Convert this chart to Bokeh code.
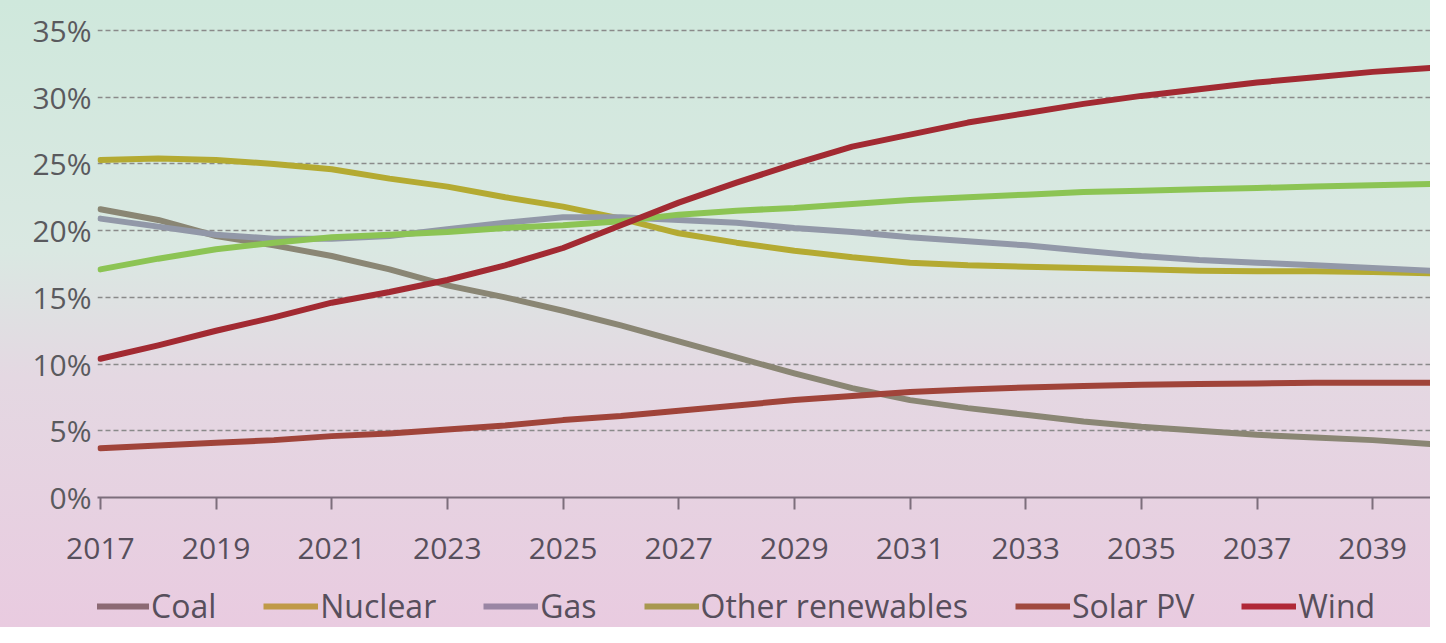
from bokeh.plotting import figure
from bokeh.layouts import column
from bokeh.models import Legend, LegendItem, FixedTicker, InlineStyleSheet, CustomJSTickFormatter, Range1d
from bokeh.embed import file_html
from bokeh.resources import INLINE

years = list(range(2017, 2041))
coal = [21.6, 20.8, 19.6, 18.9, 18.1, 17.1, 15.9, 15.0, 14.0, 12.9, 11.7, 10.5, 9.3, 8.2, 7.3, 6.7, 6.2, 5.7, 5.3, 5.0, 4.7, 4.5, 4.3, 4.0]
nuclear = [25.3, 25.4, 25.3, 25.0, 24.6, 23.9, 23.3, 22.5, 21.8, 20.9, 19.8, 19.1, 18.5, 18.0, 17.6, 17.4, 17.3, 17.2, 17.1, 17.0, 16.95, 16.95, 16.9, 16.8]
gas = [20.9, 20.3, 19.7, 19.4, 19.4, 19.6, 20.1, 20.6, 21.0, 21.0, 20.8, 20.6, 20.2, 19.9, 19.5, 19.2, 18.9, 18.5, 18.1, 17.8, 17.6, 17.4, 17.2, 17.0]
other_ren = [17.1, 17.9, 18.6, 19.1, 19.5, 19.7, 19.9, 20.2, 20.4, 20.7, 21.2, 21.5, 21.7, 22.0, 22.3, 22.5, 22.7, 22.9, 23.0, 23.1, 23.2, 23.3, 23.4, 23.5]
solar = [3.7, 3.9, 4.1, 4.3, 4.6, 4.8, 5.1, 5.4, 5.8, 6.1, 6.5, 6.9, 7.3, 7.6, 7.9, 8.1, 8.25, 8.35, 8.45, 8.5, 8.55, 8.6, 8.6, 8.6]
wind = [10.4, 11.4, 12.5, 13.5, 14.6, 15.4, 16.3, 17.4, 18.7, 20.4, 22.1, 23.6, 25.0, 26.3, 27.2, 28.1, 28.8, 29.5, 30.1, 30.6, 31.1, 31.5, 31.9, 32.2]

series_names = ["Coal", "Nuclear", "Gas", "Other renewables", "Solar PV", "Wind"]
x_ticks = list(range(2017, 2040, 2))
y_ticks = [0, 5, 10, 15, 20, 25, 30, 35]

colors = ["#8a8674", "#b4aa32", "#9298a8", "#8cc454", "#a0443a", "#a22a32"]
legend_colors = ["#8c6a74", "#c09a48", "#9a86a4", "#a89850", "#a04a40", "#b02838"]

FONT = "Open Sans"
TXT = "#574f5c"

p = figure(width=1430, height=580, output_backend="svg", toolbar_location=None,
           x_range=(2016.95, 2040.0), y_range=(0, 37.1),
           min_border_left=97, min_border_right=0, min_border_top=2, min_border_bottom=83)
p.background_fill_alpha = 0
p.border_fill_alpha = 0
p.outline_line_color = None

for name, data, c in zip(series_names, [coal, nuclear, gas, other_ren, solar, wind], colors):
    p.line(years, data, line_color=c, line_width=6, line_cap="round", line_join="round")

p.xaxis.ticker = FixedTicker(ticks=x_ticks)
p.xaxis.axis_line_color = "#7d6e7c"
p.xaxis.axis_line_width = 2
p.xaxis.major_tick_line_color = "#7d6e7c"
p.xaxis.major_tick_line_width = 2
p.xaxis.major_tick_out = 12
p.xaxis.major_tick_in = 0
p.xaxis.minor_tick_line_color = None
p.xaxis.major_label_text_font = FONT
p.xaxis.major_label_text_font_size = "30px"
p.xaxis.major_label_text_color = TXT
p.xaxis.major_label_standoff = 28

p.yaxis.ticker = FixedTicker(ticks=y_ticks)
p.yaxis.formatter = CustomJSTickFormatter(code="return tick + '%';")
p.yaxis.axis_line_color = None
p.yaxis.major_tick_line_color = None
p.yaxis.minor_tick_line_color = None
p.yaxis.major_label_text_font = FONT
p.yaxis.major_label_text_font_size = "30px"
p.yaxis.major_label_text_color = "#5a5a5e"
p.yaxis.major_label_standoff = 0

p.xgrid.grid_line_color = None
p.ygrid.ticker = FixedTicker(ticks=[5, 10, 15, 20, 25, 30, 35])
p.ygrid.grid_line_color = "#8a8a8a"
p.ygrid.grid_line_width = 1.5
p.ygrid.grid_line_dash = "5 3"

# legend strip
p2 = figure(width=1430, height=47, output_backend="svg", toolbar_location=None,
            x_range=Range1d(0, 1), y_range=Range1d(0, 1),
            min_border_left=0, min_border_right=0, min_border_top=0, min_border_bottom=0)
p2.background_fill_alpha = 0
p2.border_fill_alpha = 0
p2.outline_line_color = None
p2.axis.visible = False
p2.grid.visible = False

leg_items = []
for name, c in zip(series_names, legend_colors):
    lr = p2.line([0], [0], line_color=c, line_width=6)
    leg_items.append(LegendItem(label=name, renderers=[lr]))

legend = Legend(items=leg_items, orientation="horizontal", location=(-3, 0),
                label_text_font=FONT, label_text_font_size="32px", label_text_color=TXT,
                glyph_width=55, glyph_height=20, label_standoff=2, spacing=47,
                background_fill_alpha=0, border_line_color=None, padding=0, margin=0)
p2.add_layout(legend, "center")

layout = column(p, p2, spacing=0)
layout.stylesheets = [InlineStyleSheet(css=":host { background: linear-gradient(to bottom, #cfe8dc 0%, #dae8e2 40%, #e4d8e2 60%, #e9cbe0 100%); }")]

open("out.html", "w").write(file_html(layout, INLINE))
